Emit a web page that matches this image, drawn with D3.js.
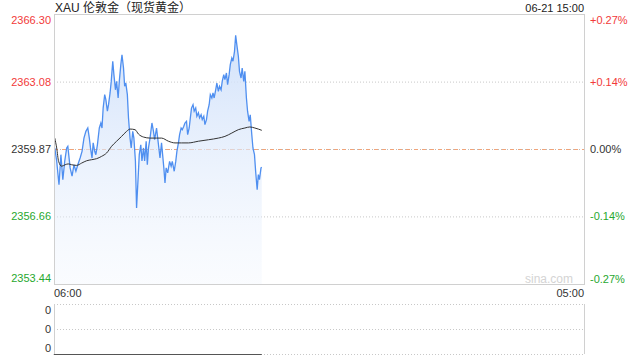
<!DOCTYPE html>
<html>
<head>
<meta charset="utf-8">
<script src="https://cdn.jsdelivr.net/npm/d3@7"></script>
<style>
  body { margin: 0; background: #fff; }
  svg { display: block; font-family: "Liberation Sans", Arial, "Noto Sans CJK SC", sans-serif; }
</style>
</head>
<body>
<svg id="chart" width="640" height="360"></svg>
<script>
//chart data
const title = "XAU 伦敦金（现货黄金）";
const stamp = "06-21 15:00";
const prevClose = 2359.87;
const priceTicks = [2366.30, 2363.08, 2359.87, 2356.66, 2353.44];
const pctTicks = ["+0.27%", "+0.14%", "0.00%", "-0.14%", "-0.27%"];
const timeTicks = ["06:00", "05:00"];
const volTicks = ["0", "0", "0"];
const volValue = 0;

//minutes after 06:00
const priceTimes = [2, 7, 13, 18, 23, 28, 33, 36, 42, 47, 52, 57, 62, 68, 73, 78, 83, 88, 92, 95,
  99, 102, 106, 109, 113, 118, 122, 125, 128, 132, 135, 139, 142, 146, 149, 153, 156, 160, 163, 167,
  170, 174, 177, 181, 184, 187, 191, 194, 198, 201, 205, 208, 212, 215, 219, 222, 226, 229, 233, 236,
  240, 243, 246, 250, 255, 259, 262, 267, 273, 276, 280, 286, 289, 292, 296, 301, 305, 308, 313, 317,
  320, 324, 327, 331, 334, 338, 341, 345, 348, 352, 355, 358, 362, 365, 369, 372, 376, 379, 383, 386,
  390, 393, 397, 400, 404, 407, 411, 414, 417, 421, 424, 428, 431, 435, 438, 442, 445, 449, 452, 456,
  459, 463, 466, 470, 473, 476, 480, 483, 487, 490, 494, 497, 501, 504, 508, 511, 515, 518, 522, 525,
  529, 532, 535, 539, 541];
const prices = [2359.92, 2359.30, 2358.17, 2359.60, 2358.41, 2359.30, 2359.92, 2360.00, 2358.97, 2358.58,
  2359.12, 2358.81, 2359.12, 2359.44, 2359.76, 2360.39, 2360.71, 2360.87, 2360.39, 2359.92,
  2359.44, 2360.16, 2359.76, 2359.60, 2360.07, 2360.87, 2361.11, 2360.87, 2361.82, 2362.46,
  2362.22, 2361.67, 2361.98, 2362.54, 2363.09, 2364.05, 2363.41, 2362.69, 2363.09, 2362.30,
  2363.09, 2363.89, 2364.36, 2363.73, 2362.86, 2363.01, 2362.46, 2361.35, 2360.39, 2359.92,
  2360.71, 2360.39, 2359.30, 2357.06, 2358.49, 2359.60, 2360.07, 2359.30, 2359.92, 2359.30,
  2360.24, 2359.12, 2359.92, 2360.39, 2361.11, 2360.71, 2360.31, 2360.87, 2359.92, 2359.44,
  2360.16, 2358.97, 2358.25, 2358.97, 2358.73, 2359.28, 2359.05, 2359.28, 2358.81, 2359.28,
  2359.76, 2360.16, 2360.55, 2360.87, 2360.79, 2360.95, 2361.11, 2361.19, 2360.55, 2360.87,
  2361.35, 2361.82, 2361.98, 2361.67, 2361.82, 2361.43, 2361.59, 2361.35, 2361.50, 2361.27,
  2361.43, 2361.03, 2361.27, 2361.67, 2361.98, 2362.46, 2362.30, 2362.54, 2362.30, 2362.69,
  2363.01, 2362.62, 2362.86, 2362.69, 2363.09, 2363.41, 2363.17, 2363.49, 2362.93, 2363.41,
  2363.89, 2364.20, 2364.05, 2364.52, 2365.29, 2364.84, 2364.29, 2363.57, 2363.25, 2363.73,
  2363.09, 2363.57, 2362.30, 2361.67, 2361.19, 2361.50, 2360.55, 2359.92, 2359.60, 2358.81,
  2357.93, 2358.65, 2358.41, 2358.97, 2359.00];

const avgTimes = [2, 7, 12, 20, 29, 37, 46, 59, 72, 85, 98, 111, 124, 137, 150, 163, 176, 189, 198, 211,
  220, 233, 250, 267, 280, 298, 315, 332, 350, 376, 402, 428, 445, 463, 480, 497, 510, 523, 541];
const avgPrices = [2360.39, 2359.92, 2359.28, 2359.05, 2359.12, 2359.16, 2359.12, 2359.09, 2359.20, 2359.31,
  2359.36, 2359.41, 2359.52, 2359.68, 2360.00, 2360.24, 2360.47, 2360.71, 2360.82, 2360.79,
  2360.58, 2360.44, 2360.39, 2360.39, 2360.39, 2360.24, 2360.16, 2360.16, 2360.16, 2360.24,
  2360.31, 2360.39, 2360.47, 2360.63, 2360.79, 2360.87, 2360.92, 2360.87, 2360.76];

const red = "#f23a3a";
const green = "#27a82f";
const dark = "#333";
const blue = "#4f8ff0";

const svg = d3.select("#chart");
const padL = 54, padR = 584, padT = 14, padB = 284;
const vTop = 304, vBottom = 354;

const x = d3.scaleLinear().domain([0, 1380]).range([padL, padR]);
const y = d3.scaleLinear().domain([priceTicks[4], priceTicks[0]]).range([padB, padT]);
const yv = d3.scaleLinear().domain([0, 1]).range([vBottom, vTop]);

const tickColor = function(i){
  if(i < 2) return red;
  if(i > 2) return green;
  return dark;
};

//gradient for the area
const grad = svg.append("defs").append("linearGradient")
  .attr("id", "fill").attr("x1", 0).attr("y1", 0).attr("x2", 0).attr("y2", 1);
grad.append("stop").attr("offset", "0%").attr("stop-color", "#cfe0fa").attr("stop-opacity", 0.95);
grad.append("stop").attr("offset", "100%").attr("stop-color", "#eef4fd").attr("stop-opacity", 0.3);

//header
svg.append("text").attr("x", padL + 1).attr("y", 12)
  .attr("font-size", 12).attr("fill", "#222").text(title);
svg.append("text").attr("x", padR).attr("y", 12).attr("text-anchor", "end")
  .attr("font-size", 11).attr("fill", "#222").text(stamp);

//grid lines
priceTicks.forEach((p, i) => {
  if(i === 0 || i === 4) return;
  if(i === 2){
    svg.append("line").attr("x1", padL).attr("x2", padR).attr("y1", y(p) + 0.5).attr("y2", y(p) + 0.5)
      .attr("stroke", "#bbb").attr("stroke-dasharray", "1,2");
    svg.append("line").attr("x1", padL).attr("x2", padR).attr("y1", y(p) + 0.5).attr("y2", y(p) + 0.5)
      .attr("stroke", "#f0a47a").attr("stroke-dasharray", "4,4");
  } else {
    svg.append("line").attr("x1", padL).attr("x2", padR).attr("y1", y(p) + 0.5).attr("y2", y(p) + 0.5)
      .attr("stroke", "#c8c8c8").attr("stroke-dasharray", "1,2");
  }
});

//area and lines
const pts = priceTimes.map((t, i) => [t, prices[i]]);
svg.append("path").datum(pts)
  .attr("fill", "url(#fill)")
  .attr("d", d3.area().x(d => x(d[0])).y0(padB).y1(d => y(d[1])));
svg.append("path").datum(pts)
  .attr("fill", "none").attr("stroke", blue).attr("stroke-width", 1.3)
  .attr("d", d3.line().x(d => x(d[0])).y(d => y(d[1])));
const avg = avgTimes.map((t, i) => [t, avgPrices[i]]);
svg.append("path").datum(avg)
  .attr("fill", "none").attr("stroke", "#333").attr("stroke-width", 1)
  .attr("d", d3.line().curve(d3.curveMonotoneX).x(d => x(d[0])).y(d => y(d[1])));

//frame
svg.append("rect").attr("x", padL + 0.5).attr("y", padT + 0.5)
  .attr("width", padR - padL).attr("height", padB - padT)
  .attr("fill", "none").attr("stroke", "#d0d0d0");

//left and right labels
priceTicks.forEach((p, i) => {
  let ty = y(p) + 4;
  if(i === 0) ty = y(p) + 10;
  if(i === 4) ty = y(p) - 2;
  svg.append("text").attr("x", 51).attr("y", ty).attr("text-anchor", "end")
    .attr("font-size", 11).attr("fill", tickColor(i)).text(p.toFixed(2));
  svg.append("text").attr("x", 590).attr("y", i === 4 ? y(p) - 1 : ty)
    .attr("font-size", 11).attr("fill", tickColor(i)).text(pctTicks[i]);
});

//watermark
svg.append("text").attr("x", 573).attr("y", 283).attr("text-anchor", "end")
  .attr("font-size", 12).attr("fill", "#d4d4d4").text("sina.com");

//time labels
svg.append("text").attr("x", padL).attr("y", 297)
  .attr("font-size", 11).attr("fill", dark).text(timeTicks[0]);
svg.append("text").attr("x", padR).attr("y", 297).attr("text-anchor", "end")
  .attr("font-size", 11).attr("fill", dark).text(timeTicks[1]);

//volume panel
[1, 0.5, 0].forEach((v, i) => {
  svg.append("line").attr("x1", padL).attr("x2", padR).attr("y1", yv(v) + 0.5).attr("y2", yv(v) + 0.5)
    .attr("stroke", "#c8c8c8").attr("stroke-dasharray", "1,2");
  let ty = yv(v) + 4;
  if(i === 0) ty = yv(v) + 10;
  if(i === 2) ty = yv(v) - 2;
  svg.append("text").attr("x", 51).attr("y", ty).attr("text-anchor", "end")
    .attr("font-size", 11).attr("fill", dark).text(volTicks[i]);
});
svg.append("line").attr("x1", padL + 0.5).attr("x2", padL + 0.5).attr("y1", vTop).attr("y2", vBottom)
  .attr("stroke", "#d0d0d0");
svg.append("line").attr("x1", padR + 0.5).attr("x2", padR + 0.5).attr("y1", vTop).attr("y2", vBottom)
  .attr("stroke", "#d0d0d0");
svg.append("line")
  .attr("x1", x(priceTimes[0]) - 1).attr("x2", x(priceTimes[priceTimes.length - 1]))
  .attr("y1", yv(volValue) + 0.5).attr("y2", yv(volValue) + 0.5)
  .attr("stroke", "#555").attr("stroke-width", 1);
</script>
</body>
</html>
